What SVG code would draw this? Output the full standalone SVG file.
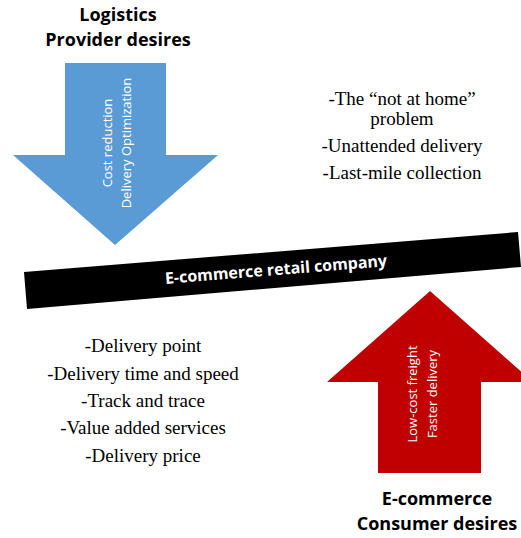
<svg xmlns="http://www.w3.org/2000/svg" width="521" height="538" viewBox="0 0 521 538">
<style>
.title{font-family:"Open Sans","Liberation Sans",sans-serif;font-weight:bold;font-size:18px;fill:#000;text-anchor:middle}
.arrowtxt{font-family:"Open Sans","Liberation Sans",sans-serif;font-size:13px;fill:#fff;text-anchor:middle}
.list{font-family:"Liberation Serif",serif;font-size:19px;fill:#000;text-anchor:middle}
.bartxt{font-family:"Open Sans","Liberation Sans",sans-serif;font-weight:bold;font-size:16px;fill:#fff;text-anchor:middle}
</style>
<rect width="521" height="538" fill="#fff"/>
<g id="provider">
<text class="title" x="118" y="21">Logistics</text>
<text class="title" x="118" y="46">Provider desires</text>
<polygon points="65,63 166,63 166,155 218,155 115,245 13,155 65,155" fill="#5B9BD5"/>
<text class="arrowtxt" transform="translate(108,143) rotate(-90)" y="4">Cost reduction</text>
<text class="arrowtxt" transform="translate(127,143) rotate(-90)" y="4">Delivery Optimization</text>
</g>
<g id="provider-issues">
<text class="list" x="402" y="105">-The “not at home”</text>
<text class="list" x="402" y="125">problem</text>
<text class="list" x="402" y="152">-Unattended delivery</text>
<text class="list" x="402" y="179">-Last-mile collection</text>
</g>
<g id="company">
<polygon points="24,272 518,232 521,267 27,309" fill="#000"/>
<text class="bartxt" transform="translate(276,270) rotate(-4.6)" y="5">E-commerce retail company</text>
</g>
<g id="consumer-issues">
<text class="list" x="143" y="352">-Delivery point</text>
<text class="list" x="143" y="380">-Delivery time and speed</text>
<text class="list" x="143" y="407">-Track and trace</text>
<text class="list" x="143" y="434">-Value added services</text>
<text class="list" x="143" y="462">-Delivery price</text>
</g>
<g id="consumer">
<polygon points="378,473 481,473 481,382 533,382 430,291 327,382 378,382" fill="#C00000"/>
<text class="arrowtxt" transform="translate(413,394) rotate(-90)" y="4">Low-cost freight</text>
<text class="arrowtxt" transform="translate(433,394) rotate(-90)" y="4">Faster delivery</text>
<text class="title" x="437" y="505">E-commerce</text>
<text class="title" x="437" y="530">Consumer desires</text>
</g>
<g id="connectors"></g>
</svg>
